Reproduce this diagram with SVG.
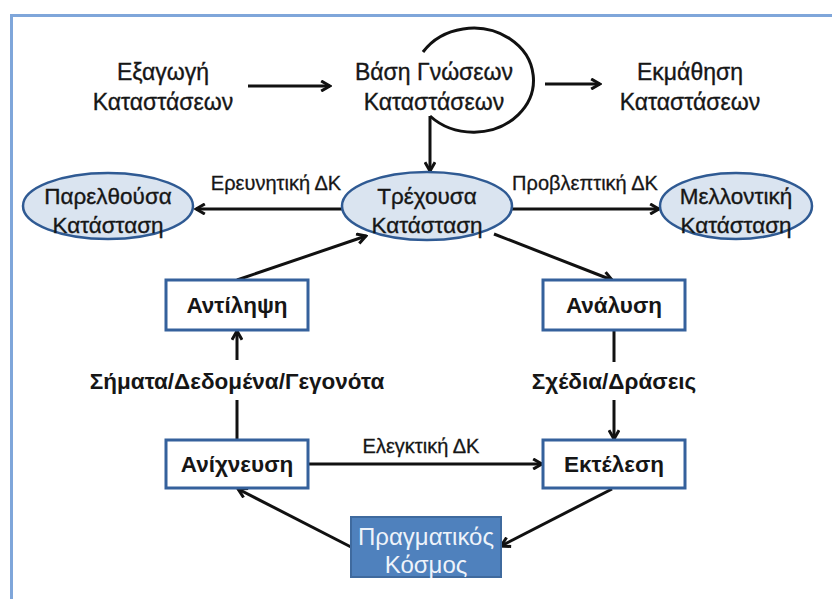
<svg xmlns="http://www.w3.org/2000/svg" width="832" height="599" viewBox="0 0 832 599">
  <style>
    .t { font-family: "Liberation Sans", Arial, sans-serif; fill: #161616; text-anchor: middle; }
    .top { font-size: 23px; stroke: #161616; stroke-width: 0.35; }
    .el { font-size: 22.5px; stroke: #161616; stroke-width: 0.35; }
    .lbl { font-size: 20px; stroke: #161616; stroke-width: 0.3; }
    .bx { font-size: 22.5px; font-weight: bold; }
    .mid { font-size: 22.5px; font-weight: bold; }
    .ell { fill: #dae4f0; stroke: #2f5a93; stroke-width: 2.5; }
    .box { fill: #ffffff; stroke: #35619c; stroke-width: 3; }
    .world { fill: #4f81bd; stroke: #3f6a9e; stroke-width: 2; }
    .wt { font-family: "Liberation Sans", Arial, sans-serif; font-size: 24px; fill: #eef3fa; text-anchor: middle; }
    .ln { fill: none; stroke: #111; stroke-width: 3; }
    .arr { fill: none; stroke: #111; stroke-width: 3; marker-end: url(#ah); }
  </style>
  <defs>
    <marker id="ah" viewBox="0 0 10 10" refX="8.5" refY="5" markerWidth="4.2" markerHeight="4.2" orient="auto" markerUnits="strokeWidth">
      <path d="M1.5,1 L8.5,5 L1.5,9" fill="none" stroke="#111" stroke-width="2.4"/>
    </marker>
  </defs>

  <rect width="832" height="599" fill="#ffffff"/>
  <!-- outer frame -->
  <rect x="11.5" y="15.5" width="840" height="600" fill="none" stroke="#7fa6da" stroke-width="3"/>

  <g id="connectors">
    <line class="arr" x1="248" y1="86" x2="330" y2="86"/>
    <path class="ln" d="M423,52 A60,52 0 1 1 430,116"/>
    <line class="arr" x1="545" y1="84" x2="600" y2="84"/>
    <line class="arr" x1="430" y1="116" x2="430" y2="171"/>
    <line class="arr" x1="342" y1="209" x2="196" y2="209"/>
    <line class="arr" x1="512" y1="209" x2="659" y2="209"/>
    <line class="arr" x1="237" y1="280" x2="366" y2="236"/>
    <line class="arr" x1="494" y1="234" x2="612" y2="280"/>
    <line class="ln" x1="237" y1="440" x2="237" y2="400"/>
    <line class="arr" x1="237" y1="360" x2="237" y2="331"/>
    <line class="ln" x1="614" y1="330" x2="614" y2="362"/>
    <line class="arr" x1="614" y1="400" x2="614" y2="439"/>
    <line class="arr" x1="308" y1="464" x2="542" y2="464"/>
    <line class="arr" x1="612" y1="489" x2="501" y2="546"/>
    <line class="arr" x1="351" y1="547" x2="238" y2="489"/>
    <text class="t lbl" x="276" y="190">Ερευνητική ΔΚ</text>
    <text class="t lbl" x="585" y="190">Προβλεπτική ΔΚ</text>
    <text class="t mid" x="237" y="389">Σήματα/Δεδομένα/Γεγονότα</text>
    <text class="t mid" x="614" y="389">Σχέδια/Δράσεις</text>
    <text class="t lbl" x="421" y="453">Ελεγκτική ΔΚ</text>
  </g>

  <g id="extraction">
    <text class="t top" x="163" y="80">Εξαγωγή</text>
    <text class="t top" x="163" y="110">Καταστάσεων</text>
  </g>
  <g id="knowledge-base">
    <text class="t top" x="434" y="80">Βάση Γνώσεων</text>
    <text class="t top" x="434" y="110">Καταστάσεων</text>
  </g>
  <g id="learning">
    <text class="t top" x="690" y="80">Εκμάθηση</text>
    <text class="t top" x="690" y="110">Καταστάσεων</text>
  </g>

  <g id="past">
    <ellipse class="ell" cx="108" cy="206" rx="85" ry="33"/>
    <text class="t el" x="108" y="204">Παρελθούσα</text>
    <text class="t el" x="108" y="233">Κατάσταση</text>
  </g>
  <g id="current">
    <ellipse class="ell" cx="427" cy="206" rx="85" ry="34"/>
    <text class="t el" x="427" y="204">Τρέχουσα</text>
    <text class="t el" x="427" y="233">Κατάσταση</text>
  </g>
  <g id="future">
    <ellipse class="ell" cx="736" cy="206" rx="76" ry="33"/>
    <text class="t el" x="736" y="204">Μελλοντική</text>
    <text class="t el" x="736" y="233">Κατάσταση</text>
  </g>

  <g id="perception">
    <rect class="box" x="166" y="280" width="142" height="50"/>
    <text class="t bx" x="237" y="313">Αντίληψη</text>
  </g>
  <g id="analysis">
    <rect class="box" x="543" y="280" width="142" height="50"/>
    <text class="t bx" x="614" y="313">Ανάλυση</text>
  </g>
  <g id="detection">
    <rect class="box" x="166" y="440" width="142" height="48"/>
    <text class="t bx" x="237" y="472">Ανίχνευση</text>
  </g>
  <g id="execution">
    <rect class="box" x="543" y="440" width="142" height="48"/>
    <text class="t bx" x="614" y="472">Εκτέλεση</text>
  </g>
  <g id="real-world">
    <rect class="world" x="351" y="517" width="150" height="60"/>
    <text class="wt" x="426" y="545">Πραγματικός</text>
    <text class="wt" x="426" y="573">Κόσμος</text>
  </g>
</svg>
